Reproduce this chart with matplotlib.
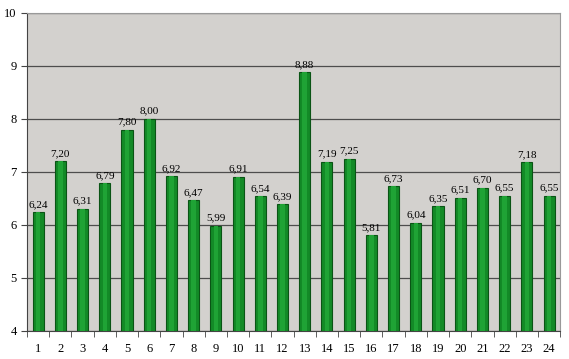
import matplotlib.pyplot as plt
import numpy as np

#---------Datos---------#
categorias = [str(i) for i in range(1, 25)]
valores = [6.24, 7.20, 6.31, 6.79, 7.80, 8.00, 6.92, 6.47, 5.99, 6.91, 6.54, 6.39,
           8.88, 7.19, 7.25, 5.81, 6.73, 6.04, 6.35, 6.51, 6.70, 6.55, 7.18, 6.55]
#---------Datos---------#

plt.rcParams['font.family'] = ['Liberation Serif', 'DejaVu Serif']

fig = plt.figure(figsize=(5.69, 3.59), dpi=100)
ax = fig.add_axes([0.0475, 0.078, 0.937, 0.886])
ax.set_facecolor('#d3d1ce')

x = np.arange(len(valores))
ax.bar(x, [v - 4 for v in valores], bottom=4, width=0.5,
       color='#138a27', edgecolor='#0a5415', linewidth=0.8, zorder=3)
# franja clara al centro para imitar el degradado
ax.bar(x, [v - 4 for v in valores], bottom=4, width=0.2,
       color='#1fa335', linewidth=0, zorder=4)

for xi, v in zip(x, valores):
    ax.text(xi, v + 0.06, ('%.2f' % v).replace('.', ','), ha='center', va='bottom',
            fontsize=8, zorder=5)

ax.set_ylim(4, 10)
ax.set_xlim(-0.5, len(valores) - 0.5)
ax.set_yticks(range(4, 11))
ax.yaxis.grid(True, color='#4d4d4d', linewidth=0.9, zorder=1)
ax.set_xticks(x)
ax.set_xticklabels(categorias, fontsize=9)
ax.set_xticks(np.arange(-0.5, len(valores)), minor=True)
ax.tick_params(axis='x', which='major', length=0, pad=9)
ax.tick_params(axis='x', which='minor', length=4, direction='out', color='#444444')
ax.tick_params(axis='y', labelsize=9, length=4, color='#444444')
for lado in ['top', 'right']:
    ax.spines[lado].set_color('#999999')
for lado in ['left', 'bottom']:
    ax.spines[lado].set_color('#444444')

plt.savefig('out.png', dpi=100)
